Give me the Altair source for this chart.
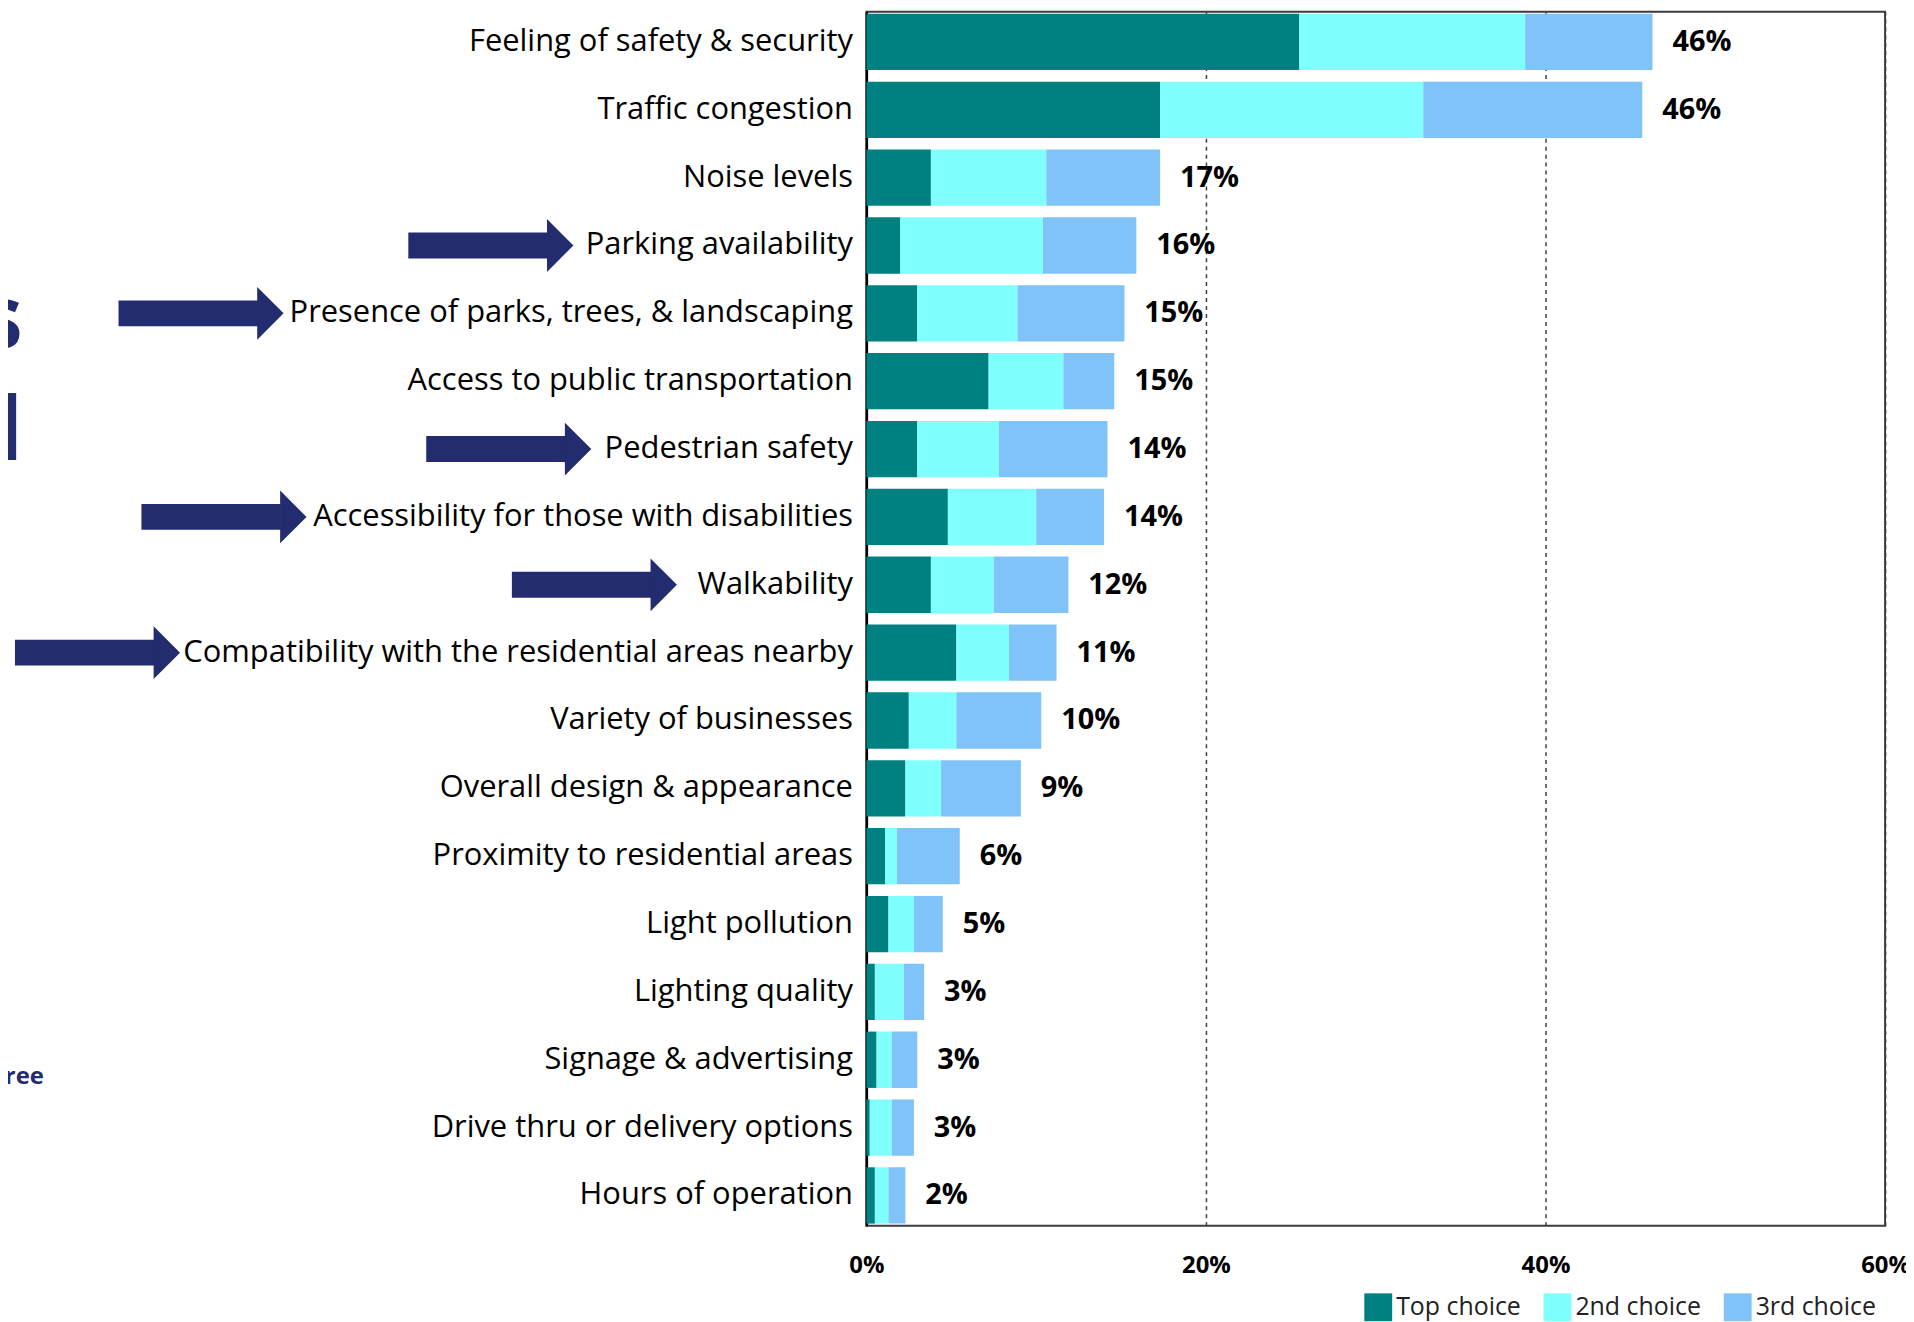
import altair as alt
import pandas as pd

# ---------------- data ----------------
categories = [
    "Feeling of safety & security",
    "Traffic congestion",
    "Noise levels",
    "Parking availability",
    "Presence of parks, trees, & landscaping",
    "Access to public transportation",
    "Pedestrian safety",
    "Accessibility for those with disabilities",
    "Walkability",
    "Compatibility with the residential areas nearby",
    "Variety of businesses",
    "Overall design & appearance",
    "Proximity to residential areas",
    "Light pollution",
    "Lighting quality",
    "Signage & advertising",
    "Drive thru or delivery options",
    "Hours of operation",
]
top_choice = [25.5, 17.3, 3.8, 2.0, 3.0, 7.2, 3.0, 4.8, 3.8, 5.3, 2.5, 2.3, 1.1, 1.3, 0.5, 0.6, 0.2, 0.5]
second_choice = [13.3, 15.5, 6.8, 8.4, 5.9, 4.4, 4.8, 5.2, 3.7, 3.1, 2.8, 2.1, 0.7, 1.5, 1.7, 0.9, 1.3, 0.8]
third_choice = [7.5, 12.9, 6.7, 5.5, 6.3, 3.0, 6.4, 4.0, 4.4, 2.8, 5.0, 4.7, 3.7, 1.7, 1.2, 1.5, 1.3, 1.0]
total_labels = ["46%", "46%", "17%", "16%", "15%", "15%", "14%", "14%", "12%",
                "11%", "10%", "9%", "6%", "5%", "3%", "3%", "3%", "2%"]
series_names = ["Top choice", "2nd choice", "3rd choice"]
x_ticks = [0, 20, 40, 60]

# annotation arrows (pointing at highlighted labels)
arrow_targets = [
    "Parking availability",
    "Presence of parks, trees, & landscaping",
    "Pedestrian safety",
    "Accessibility for those with disabilities",
    "Walkability",
    "Compatibility with the residential areas nearby",
]
# fragments of slide text cut off at the left edge
fragments_big = ["s", "l"]
fragments_small = ["ree"]

# ---------------- styling / layout ----------------
series_colors = ["#008080", "#80ffff", "#7fc3f8"]
navy = "#232c6e"
arrow_tip_px = [-294, -585, -276, -562, -190, -689]  # tip position left of the plot (px)
ARROW_LEN = 166
HEAD_LEN = 27
FONT = "Open Sans"

rows = []
for i, c in enumerate(categories):
    for k, (name, vals) in enumerate(zip(series_names, [top_choice, second_choice, third_choice])):
        rows.append({"category": c, "series": name, "order": k, "value": vals[i]})
bars_df = pd.DataFrame(rows)

totals_df = pd.DataFrame({
    "category": categories,
    "total": [a + b + c for a, b, c in zip(top_choice, second_choice, third_choice)],
    "label": total_labels,
})

arrows_df = pd.DataFrame({
    "category": arrow_targets,
    "body_start": [t - ARROW_LEN for t in arrow_tip_px],
    "body_end": [t - HEAD_LEN + 1 for t in arrow_tip_px],
    "head_x": [t - HEAD_LEN / 2 for t in arrow_tip_px],
})

y_enc = alt.Y(
    "category:N",
    sort=categories,
    scale=alt.Scale(paddingInner=0.17, paddingOuter=0.03),
    axis=alt.Axis(
        title=None,
        ticks=False,
        labelFont=FONT,
        labelFontSize=31,
        labelColor="#000000",
        labelPadding=14,
        labelLimit=2000,
        domainColor="#000000",
        domainWidth=2.5,
    ),
)

x_scale = alt.Scale(domain=[0, 60], nice=False)

bars = alt.Chart(bars_df).mark_bar().encode(
    x=alt.X(
        "value:Q",
        stack="zero",
        scale=x_scale,
        axis=alt.Axis(
            title=None,
            values=x_ticks,
            labelExpr="datum.value + '%'",
            labelFlush=False,
            ticks=False,
            domain=False,
            grid=True,
            gridColor="#404040",
            gridDash=[4, 4],
            gridWidth=1.5,
            labelFont=FONT,
            labelFontWeight="bold",
            labelFontSize=24,
            labelColor="#000000",
            labelPadding=28,
        ),
    ),
    y=y_enc,
    color=alt.Color(
        "series:N",
        scale=alt.Scale(domain=series_names, range=series_colors),
        legend=alt.Legend(
            title=None,
            orient="none",
            legendX=500,
            legendY=1287,
            direction="horizontal",
            symbolType="square",
            symbolSize=784,
            symbolStrokeWidth=0,
            labelFont=FONT,
            labelFontSize=25,
            labelColor="#222222",
            labelOffset=4,
            columnPadding=22,
        ),
    ),
    order=alt.Order("order:Q"),
)

value_labels = alt.Chart(totals_df).mark_text(
    align="left", baseline="middle", dx=20,
    font=FONT, fontWeight="bold", fontSize=29, color="#000000",
).encode(
    x=alt.X("total:Q", scale=x_scale),
    y=alt.Y("category:N", sort=categories),
    text="label:N",
)

arrow_body = alt.Chart(arrows_df).mark_bar(height=26, color=navy).encode(
    x=alt.X("body_start:Q", scale=None),
    x2="body_end:Q",
    y=alt.Y("category:N", sort=categories),
)

arrow_head = alt.Chart(arrows_df).mark_point(
    shape="M -0.5 -1 L 0.5 0 L -0.5 1 Z",
    filled=True, size=2809, opacity=1, color=navy, strokeWidth=0,
).encode(
    x=alt.X("head_x:Q", scale=None),
    y=alt.Y("category:N", sort=categories),
)

frag_big = alt.Chart(pd.DataFrame({"t": fragments_big, "yy": [312, 424]})).mark_text(
    align="right", baseline="middle", font=FONT, fontWeight="bold", fontSize=88, color=navy,
).encode(x=alt.value(-847), y=alt.Y("yy:Q", scale=None), text="t:N")

frag_small = alt.Chart(pd.DataFrame({"t": fragments_small})).mark_text(
    align="right", baseline="middle", font=FONT, fontWeight="bold", fontSize=24, color=navy,
).encode(x=alt.value(-826), y=alt.value(1070), text="t:N")

chart = alt.layer(
    bars, value_labels, arrow_body, arrow_head, frag_big, frag_small
).properties(
    width=1023,
    height=1219,
    autosize=alt.AutoSizeParams(type="none"),
    padding={"left": 862, "top": 1, "right": 21, "bottom": 96},
).configure_view(
    stroke="#3c3c3c", strokeWidth=2
)

chart.save("out.html", embed_options={"renderer": "svg", "actions": False})
